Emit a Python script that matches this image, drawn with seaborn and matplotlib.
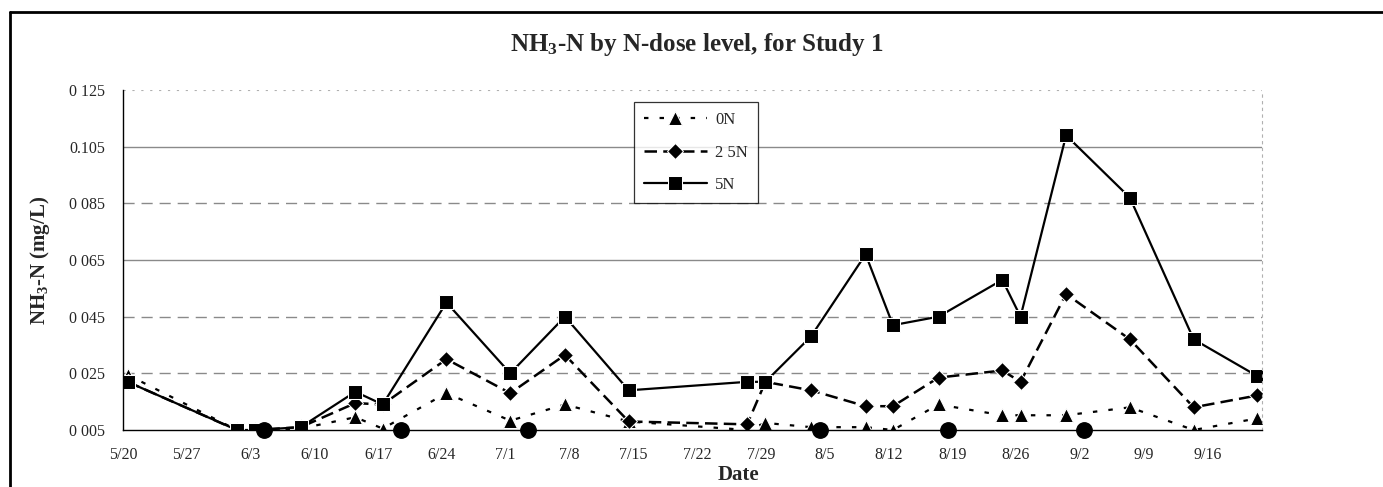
import pandas as pd
import matplotlib.pyplot as plt
import matplotlib.lines as mlines
import seaborn as sns

# ----------------------------
# Data (days after 5/20)
# ----------------------------
dias = [0, 12, 14, 19, 25, 28, 35, 42, 48, 55, 68, 70, 75, 81, 84, 89, 96, 98, 103, 110, 117, 124]
n0 = [0.0245, 0.005, 0.005, 0.0055, 0.0095, 0.0055, 0.018, 0.0083, 0.014, 0.008, 0.005,
      0.0075, 0.006, 0.006, 0.005, 0.014, 0.0102, 0.0102, 0.0102, 0.013, 0.005, 0.0091]
n25 = [0.022, 0.005, 0.005, 0.006, 0.0145, 0.014, 0.030, 0.018, 0.0315, 0.008, 0.007,
       0.022, 0.019, 0.0134, 0.0134, 0.0235, 0.026, 0.022, 0.053, 0.037, 0.013, 0.0172]
n5 = [0.022, 0.005, 0.005, 0.006, 0.0185, 0.014, 0.050, 0.025, 0.045, 0.019, 0.022,
      0.022, 0.038, 0.067, 0.042, 0.045, 0.058, 0.045, 0.109, 0.087, 0.037, 0.024]
dias_circulo = [15, 30, 44, 76, 90, 105]
y_circulo = [0.005] * 6

rotulos_x = ["5/20", "5/27", "6/3", "6/10", "6/17", "6/24", "7/1", "7/8", "7/15",
             "7/22", "7/29", "8/5", "8/12", "8/19", "8/26", "9/2", "9/9", "9/16"]
ticks_y = [0.005, 0.025, 0.045, 0.065, 0.085, 0.105, 0.125]
rotulos_y = ["0 005", "0 025", "0 045", "0 065", "0 085", "0.105", "0 125"]

df = pd.DataFrame({"dia": [d + 0.5 for d in dias], "0N": n0, "2 5N": n25, "5N": n5})
df_circ = pd.DataFrame({"dia": [d + 0.5 for d in dias_circulo], "y": y_circulo})

# ----------------------------
# Figure
# ----------------------------
sns.set_style("white")
plt.rcParams["font.family"] = ["Liberation Serif", "DejaVu Serif"]
plt.rcParams["mathtext.default"] = "regular"

fig = plt.figure(figsize=(13.83, 4.87), dpi=100)
ax = fig.add_axes([123 / 1383, 1 - 430 / 487, (1262 - 123) / 1383, 340 / 487])

# gridlines
for yv in [0.105, 0.065]:
    ax.axhline(yv, color="#8a8a8a", lw=1.0, zorder=0)
for yv in [0.085, 0.045, 0.025]:
    ax.axhline(yv, color="#8a8a8a", lw=1.0, ls=(0, (8, 5)), zorder=0)
ax.axhline(0.125, color="#b0b0b0", lw=0.8, ls=(0, (2, 6)), zorder=0)

sns.lineplot(data=df, x="dia", y="0N", ax=ax, sort=False, estimator=None, color="black",
             lw=1.6, linestyle=(0, (2, 5)), marker="^", markersize=9.5, label="0N")
sns.lineplot(data=df, x="dia", y="2 5N", ax=ax, sort=False, estimator=None, color="black",
             lw=1.8, linestyle=(0, (5, 2.5)), marker="D", markersize=8.5, label="2 5N")
sns.lineplot(data=df, x="dia", y="5N", ax=ax, sort=False, estimator=None, color="black",
             lw=1.6, linestyle="-", marker="s", markersize=10, label="5N")
sns.scatterplot(data=df_circ, x="dia", y="y", ax=ax, color="black", s=125,
                edgecolor="black", clip_on=False, zorder=5)

ax.set_xlim(0, 125)
ax.set_ylim(0.005, 0.125)
ax.set_xticks([7 * i for i in range(len(rotulos_x))])
ax.set_xticklabels(rotulos_x, fontsize=11.5)
ax.set_yticks(ticks_y)
ax.set_yticklabels(rotulos_y, fontsize=11.5)
ax.tick_params(axis="x", direction="out", length=4, width=1, pad=8, color="black")
ax.tick_params(axis="y", direction="out", length=5, width=1, pad=8, color="black")
ax.set_xlabel("")
ax.set_ylabel("NH$_3$-N (mg/L)", fontsize=15, fontweight="bold", labelpad=12)

for lado in ["left", "bottom"]:
    ax.spines[lado].set_color("black")
    ax.spines[lado].set_linewidth(1.0)
ax.spines["top"].set_visible(False)
ax.spines["right"].set_color("#b0b0b0")
ax.spines["right"].set_linestyle((0, (2, 4)))
ax.spines["right"].set_linewidth(0.8)

leg = ax.legend(loc="upper right", bbox_to_anchor=(758 / 1383, 1 - 102 / 487),
                bbox_transform=fig.transFigure, borderaxespad=0, fontsize=12,
                frameon=True, fancybox=False, edgecolor="black", handlelength=3.8,
                labelspacing=1.0, borderpad=0.6, handletextpad=0.5)
leg.get_frame().set_linewidth(0.9)

fig.text(697 / 1383, 1 - 44 / 487, "NH$_3$-N by N-dose level, for Study 1",
         ha="center", va="center", fontsize=18, fontweight="bold")
fig.text(738 / 1383, 1 - 475 / 487, "Date", ha="center", va="center",
         fontsize=15, fontweight="bold")

# moldura
fig.add_artist(mlines.Line2D([10 / 1383, 10 / 1383], [0, 1 - 12 / 487], color="black", lw=2))
fig.add_artist(mlines.Line2D([10 / 1383, 1], [1 - 12 / 487, 1 - 12 / 487], color="black", lw=2))

fig.savefig("out.png", dpi=100)
